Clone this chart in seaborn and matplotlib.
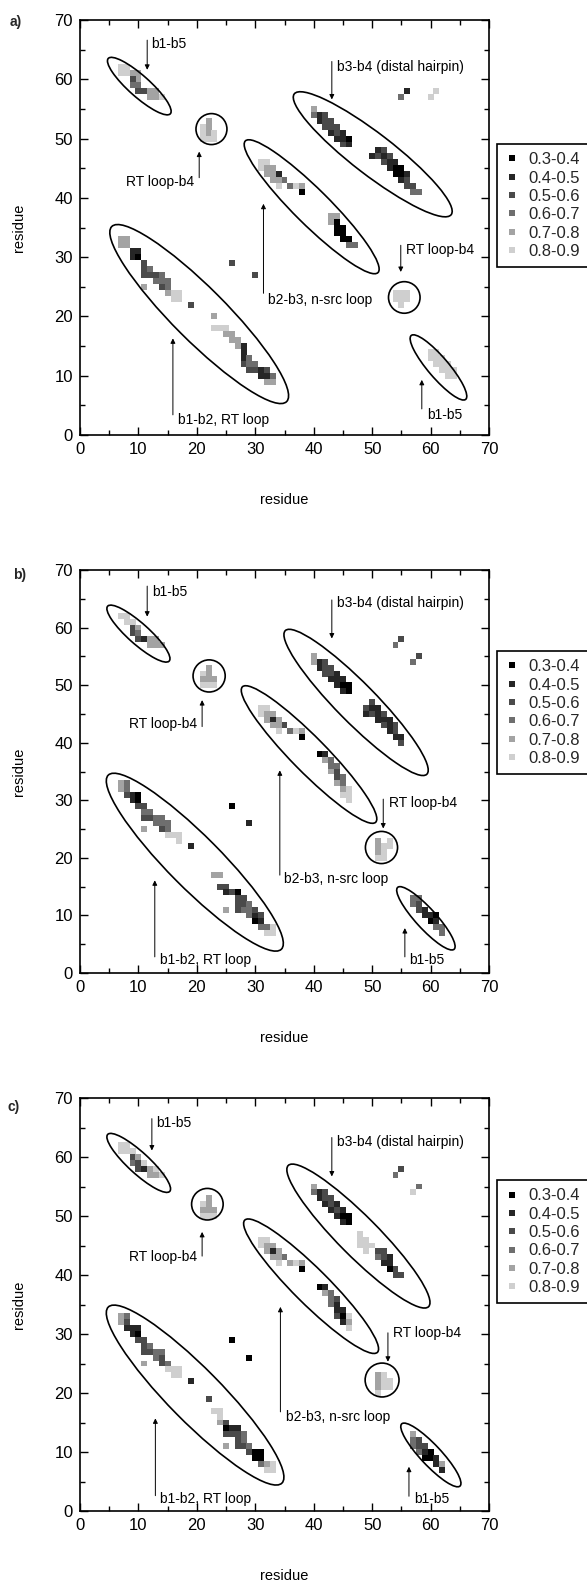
import numpy as np
import pandas as pd
import matplotlib
matplotlib.use("Agg")
import matplotlib.pyplot as plt
from matplotlib.patches import Ellipse
from matplotlib.lines import Line2D
import seaborn as sns

# contact probability bins and their shading
LEVELS = ["0.3-0.4", "0.4-0.5", "0.5-0.6", "0.6-0.7", "0.7-0.8", "0.8-0.9"]
GRAYS = ["#000000", "#262626", "#4a4a4a", "#6e6e6e", "#a3a3a3", "#cfcfcf"]
TICKS = [0, 10, 20, 30, 40, 50, 60, 70]

# contacts: (residue i, residue j, bin index into LEVELS)
a_contacts = [
    (7, 62, 5), (8, 62, 5), (7, 61, 5), (8, 61, 5), (9, 61, 4), (10, 61, 4), (10, 60, 4), (9, 60, 2),
    (9, 59, 3), (10, 59, 3), (10, 58, 2), (11, 58, 2), (12, 58, 4), (12, 57, 4), (13, 58, 4), (13, 57, 4), (14, 57, 5),
    (22, 53, 4), (22, 52, 4), (21, 52, 5), (21, 51, 5), (22, 51, 4), (23, 51, 5), (21, 50, 5), (22, 50, 5), (23, 50, 5),
    (40, 55, 4), (40, 54, 3), (41, 54, 1), (41, 53, 1), (42, 53, 2), (42, 52, 2), (43, 52, 2), (43, 51, 1),
    (44, 51, 2), (44, 50, 1), (45, 50, 1), (45, 49, 2), (46, 50, 0), (46, 49, 1),
    (42, 54, 2), (43, 53, 2), (44, 52, 2), (45, 51, 1),
    (50, 47, 1), (51, 48, 1), (51, 47, 2), (52, 47, 1), (52, 46, 2), (53, 46, 1), (53, 45, 1), (54, 45, 0),
    (54, 44, 0), (55, 44, 0), (55, 43, 1), (56, 43, 2), (56, 42, 2), (57, 42, 2), (57, 41, 3), (58, 41, 3),
    (52, 48, 2), (53, 47, 2), (54, 46, 1), (55, 45, 0), (56, 44, 1),
    (55, 57, 3), (56, 58, 1), (60, 57, 5), (61, 58, 5),
    (31, 46, 5), (32, 46, 5), (31, 45, 5), (32, 45, 4), (33, 45, 4), (32, 44, 4), (33, 44, 4), (34, 44, 1),
    (33, 43, 4), (34, 43, 4), (34, 42, 5), (35, 43, 3), (36, 42, 3), (37, 42, 5), (38, 42, 4), (38, 41, 0),
    (43, 37, 4), (43, 36, 4), (44, 36, 0), (44, 35, 0), (44, 34, 0), (45, 35, 0), (45, 34, 0), (45, 33, 0),
    (46, 33, 0), (46, 32, 3), (47, 32, 3), (44, 37, 4),
    (26, 29, 2), (30, 27, 2),
    (7, 33, 4), (7, 32, 4), (8, 33, 4), (8, 32, 4), (9, 31, 1), (10, 31, 1), (9, 30, 1), (10, 30, 0),
    (11, 29, 2), (11, 28, 2), (11, 27, 2), (12, 27, 2), (13, 27, 2), (14, 27, 3), (14, 26, 3), (14, 25, 2),
    (15, 25, 3), (15, 24, 4), (16, 24, 5), (17, 24, 5), (17, 23, 5), (16, 23, 5), (11, 25, 4), (19, 22, 2),
    (12, 28, 3), (13, 26, 3), (15, 26, 3),
    (23, 20, 4), (23, 18, 5), (24, 18, 5), (25, 18, 5), (25, 17, 4), (26, 17, 4), (26, 16, 4), (27, 16, 4),
    (27, 15, 4), (28, 15, 1), (28, 14, 1), (28, 13, 1), (28, 12, 2), (29, 13, 3), (29, 12, 3), (29, 11, 2),
    (30, 11, 2), (30, 12, 3), (31, 11, 1), (31, 10, 1), (32, 11, 2), (32, 10, 1), (32, 9, 4), (33, 9, 4), (33, 10, 3),
    (54, 24, 5), (55, 24, 5), (56, 24, 5), (54, 23, 5), (55, 23, 5), (56, 23, 5), (55, 22, 5),
    (60, 14, 5), (61, 14, 5), (60, 13, 5), (61, 13, 5), (62, 13, 5), (61, 12, 5), (62, 12, 5), (63, 12, 5),
    (62, 11, 5), (63, 11, 5), (64, 11, 5), (63, 10, 5), (64, 10, 5),
]

b_contacts = [
    (7, 62, 5), (8, 62, 5), (8, 61, 5), (9, 61, 5), (9, 60, 2), (9, 59, 2), (10, 60, 4), (10, 59, 3),
    (10, 58, 2), (11, 58, 1), (12, 58, 4), (12, 57, 4), (13, 58, 4), (13, 57, 4), (14, 57, 4),
    (22, 53, 4), (22, 52, 4), (21, 52, 5), (21, 51, 4), (22, 51, 4), (23, 51, 4), (21, 50, 5), (22, 50, 5), (23, 50, 5),
    (40, 55, 4), (40, 54, 4), (41, 54, 1), (41, 53, 1), (42, 53, 2), (42, 52, 2), (43, 53, 2), (43, 52, 2),
    (44, 52, 1), (43, 51, 1), (44, 51, 1), (44, 50, 1), (45, 50, 0), (45, 49, 1), (46, 50, 0), (46, 49, 0),
    (42, 54, 2), (45, 51, 1),
    (49, 46, 2), (50, 46, 1), (49, 45, 1), (50, 45, 2), (51, 45, 1), (51, 44, 1), (52, 44, 1), (52, 43, 2),
    (53, 43, 1), (53, 42, 1), (54, 42, 2), (54, 41, 1), (55, 41, 1), (55, 40, 2),
    (50, 47, 2), (51, 46, 1), (52, 45, 2), (53, 44, 1), (54, 43, 2),
    (54, 57, 3), (55, 58, 2), (57, 54, 3), (58, 55, 2),
    (31, 46, 5), (32, 46, 5), (31, 45, 5), (32, 45, 4), (33, 45, 4), (32, 44, 4), (33, 44, 1), (34, 44, 4),
    (33, 43, 4), (34, 43, 4), (34, 42, 5), (35, 43, 2), (36, 42, 3), (37, 42, 5), (38, 42, 4), (38, 41, 0),
    (41, 38, 0), (42, 38, 1), (42, 37, 4), (43, 37, 3), (43, 36, 3), (44, 36, 3), (43, 35, 4), (44, 35, 2),
    (44, 34, 2), (45, 34, 3), (45, 33, 3), (44, 33, 4), (45, 32, 4), (46, 32, 5), (46, 31, 5), (45, 31, 5), (46, 30, 5),
    (26, 29, 0), (29, 26, 1),
    (7, 33, 4), (7, 32, 4), (8, 33, 3), (8, 32, 3), (9, 31, 1), (10, 31, 0), (9, 30, 1), (10, 30, 0),
    (10, 29, 2), (11, 29, 2), (11, 28, 3), (11, 27, 2), (12, 28, 3), (12, 27, 2), (13, 27, 3), (14, 27, 3),
    (14, 26, 3), (14, 25, 2), (15, 25, 3), (15, 24, 5), (16, 24, 5), (17, 24, 5), (17, 23, 5), (11, 25, 4), (19, 22, 1),
    (8, 31, 2), (13, 26, 3), (15, 26, 3),
    (23, 17, 4), (24, 17, 4), (24, 15, 2), (25, 15, 2), (25, 14, 1), (26, 14, 2), (27, 14, 0), (27, 13, 2),
    (27, 12, 2), (27, 11, 2), (28, 12, 2), (28, 11, 3), (29, 11, 3), (29, 10, 3), (30, 10, 1), (30, 9, 0),
    (31, 9, 1), (31, 10, 2), (31, 8, 3), (32, 8, 3), (32, 7, 5), (33, 7, 5), (33, 8, 5), (25, 11, 4),
    (28, 13, 2), (29, 12, 3), (30, 11, 2),
    (51, 23, 4), (51, 22, 4), (51, 21, 4), (51, 20, 5), (52, 22, 5), (53, 22, 5), (52, 21, 5), (53, 23, 5), (52, 20, 5),
    (57, 13, 3), (57, 12, 3), (58, 12, 2), (58, 11, 2), (59, 11, 1), (59, 10, 1), (60, 10, 1), (60, 9, 0),
    (61, 10, 0), (61, 9, 1), (61, 8, 3), (62, 8, 3), (62, 7, 3), (58, 13, 3),
]

c_contacts = [
    (7, 62, 5), (8, 62, 5), (7, 61, 5), (8, 61, 5), (9, 61, 5), (9, 60, 2), (10, 60, 4), (9, 59, 3),
    (10, 59, 2), (10, 58, 2), (11, 58, 1), (11, 59, 5), (12, 58, 4), (12, 57, 4), (13, 58, 5), (13, 57, 4), (14, 57, 5),
    (22, 53, 4), (22, 52, 4), (21, 52, 5), (21, 51, 4), (22, 51, 4), (23, 51, 4), (21, 50, 5), (22, 50, 5), (23, 50, 5),
    (40, 55, 4), (40, 54, 3), (41, 54, 1), (41, 53, 1), (42, 53, 2), (42, 52, 1), (43, 53, 2), (43, 52, 2),
    (44, 52, 1), (43, 51, 1), (44, 51, 2), (44, 50, 1), (45, 50, 0), (45, 49, 1), (46, 50, 0), (46, 49, 0),
    (42, 54, 2), (45, 51, 1),
    (48, 47, 5), (48, 46, 5), (49, 46, 5), (48, 45, 5), (49, 45, 5), (50, 45, 5), (49, 44, 5),
    (51, 44, 2), (51, 43, 3), (52, 43, 2), (52, 42, 1), (53, 42, 1), (53, 41, 0), (54, 41, 2), (54, 40, 2), (55, 40, 2),
    (52, 44, 2), (53, 43, 1),
    (54, 57, 3), (55, 58, 2), (57, 54, 5), (58, 55, 3),
    (31, 46, 5), (32, 46, 5), (31, 45, 5), (32, 45, 4), (33, 45, 4), (32, 44, 4), (33, 44, 1), (34, 44, 4),
    (33, 43, 4), (34, 43, 4), (34, 42, 5), (35, 43, 3), (36, 42, 4), (37, 42, 5), (38, 42, 4), (38, 41, 0),
    (41, 38, 0), (42, 38, 1), (42, 37, 4), (43, 37, 3), (43, 36, 3), (44, 36, 2), (43, 35, 3), (44, 35, 1),
    (44, 34, 1), (45, 34, 1), (45, 33, 0), (44, 33, 2), (45, 32, 1), (46, 32, 4), (46, 33, 5), (46, 31, 5),
    (26, 29, 0), (29, 26, 0),
    (7, 33, 4), (7, 32, 4), (8, 33, 3), (8, 32, 2), (8, 31, 1), (9, 31, 1), (10, 31, 1), (9, 30, 1),
    (10, 30, 0), (10, 29, 2), (11, 29, 2), (11, 28, 2), (11, 27, 2), (12, 28, 3), (12, 27, 2), (13, 27, 3),
    (14, 27, 3), (14, 26, 2), (14, 25, 2), (15, 25, 3), (15, 24, 5), (16, 24, 5), (17, 24, 5), (17, 23, 5),
    (16, 23, 5), (11, 25, 4), (19, 22, 1), (13, 26, 3),
    (22, 19, 2), (23, 17, 5), (24, 17, 5), (24, 16, 5), (24, 15, 4), (25, 15, 2), (25, 14, 0), (26, 14, 1),
    (27, 14, 1), (25, 13, 2), (27, 13, 2), (27, 12, 2), (28, 12, 3), (27, 11, 2), (28, 11, 2), (29, 11, 3),
    (29, 10, 2), (30, 10, 0), (30, 9, 0), (31, 10, 0), (31, 9, 0), (31, 8, 3), (32, 8, 4), (33, 8, 5),
    (32, 7, 5), (33, 7, 5), (25, 11, 4), (26, 13, 2), (28, 13, 3),
    (51, 23, 4), (51, 22, 4), (51, 21, 4), (52, 22, 5), (53, 22, 5), (52, 21, 5), (51, 20, 5), (52, 23, 5), (53, 21, 5),
    (57, 13, 4), (57, 12, 3), (57, 11, 3), (58, 12, 2), (58, 11, 2), (58, 10, 3), (59, 10, 1), (59, 9, 0),
    (60, 10, 0), (60, 9, 0), (61, 9, 1), (61, 8, 1), (62, 8, 4), (62, 7, 1), (59, 11, 2),
]

# region outlines: (x0, x1, y0, y1, minor width) bounding boxes of tilted ellipses
a_ellipses = [(4.7, 15.6, 54.0, 63.7, 3.6), (36.5, 63.7, 36.8, 57.9, 7.0), (28.1, 51.2, 27.2, 49.8, 6.0),
              (5.1, 35.7, 5.3, 35.5, 9.0), (56.5, 66.2, 5.9, 16.9, 3.5)]
b_ellipses = [(4.6, 15.4, 54.0, 63.9, 3.6), (34.9, 59.6, 34.3, 59.7, 6.8), (27.6, 50.8, 26.0, 49.9, 6.0),
              (4.5, 34.8, 3.8, 34.7, 9.0), (54.2, 64.2, 4.0, 15.0, 3.5)]
c_ellipses = [(4.6, 15.5, 54.0, 64.0, 3.6), (35.4, 59.9, 34.4, 58.8, 6.8), (28.0, 51.1, 26.7, 49.5, 6.0),
              (4.5, 34.9, 4.4, 34.9, 9.0), (54.9, 65.2, 4.1, 14.9, 3.5)]
# circles: (cx, cy, r)
a_circles = [(22.5, 51.6, 2.65), (55.5, 23.2, 2.7)]
b_circles = [(22.1, 51.6, 2.75), (51.6, 21.8, 2.75)]
c_circles = [(21.8, 52.0, 2.7), (51.7, 22.2, 2.9)]

# labelled arrows: (text, tx, ty, ha, tail, head)
a_notes = [("b1-b5", 12.2, 66.0, "left", (11.5, 66.6), (11.5, 61.6)),
           ("RT loop-b4", 19.5, 42.7, "right", (20.4, 43.4), (20.4, 47.8)),
           ("b3-b4 (distal hairpin)", 43.9, 62.0, "left", (43.1, 63.0), (43.1, 56.6)),
           ("b2-b3, n-src loop", 32.2, 22.8, "left", (31.4, 23.9), (31.4, 39.0)),
           ("RT loop-b4", 55.8, 31.2, "left", (54.9, 32.0), (54.9, 27.5)),
           ("b1-b5", 59.4, 3.4, "left", (58.5, 4.4), (58.5, 9.3)),
           ("b1-b2, RT loop", 16.7, 2.6, "left", (15.9, 3.4), (15.9, 16.3))]
b_notes = [("b1-b5", 12.3, 66.2, "left", (11.5, 67.2), (11.5, 61.9)),
           ("RT loop-b4", 20.0, 43.2, "right", (20.9, 42.8), (20.9, 47.4)),
           ("b3-b4 (distal hairpin)", 43.9, 64.2, "left", (43.1, 64.8), (43.1, 58.1)),
           ("b2-b3, n-src loop", 34.9, 16.3, "left", (34.2, 17.0), (34.2, 35.2)),
           ("RT loop-b4", 52.8, 29.6, "left", (51.9, 30.2), (51.9, 25.1)),
           ("b1-b5", 56.4, 2.3, "left", (55.6, 2.8), (55.6, 7.8)),
           ("b1-b2, RT loop", 13.7, 2.3, "left", (12.8, 2.8), (12.8, 16.1))]
c_notes = [("b1-b5", 13.0, 65.7, "left", (12.3, 66.5), (12.3, 61.1)),
           ("RT loop-b4", 20.0, 43.1, "right", (20.9, 43.2), (20.9, 47.3)),
           ("b3-b4 (distal hairpin)", 43.9, 62.6, "left", (43.1, 63.3), (43.1, 56.7)),
           ("b2-b3, n-src loop", 35.2, 16.0, "left", (34.3, 16.8), (34.3, 34.6)),
           ("RT loop-b4", 53.5, 30.1, "left", (52.7, 30.2), (52.7, 25.3)),
           ("b1-b5", 57.2, 2.0, "left", (56.3, 2.5), (56.3, 7.5)),
           ("b1-b2, RT loop", 13.7, 2.0, "left", (12.9, 2.6), (12.9, 15.7))]

sns.set_theme(style="ticks")
plt.rcParams["font.family"] = ["Liberation Sans", "DejaVu Sans"]
plt.rcParams["axes.linewidth"] = 1.2

W, H = 587, 1585
fig = plt.figure(figsize=(W / 100, H / 100), dpi=100)

# panel frames in pixels: (left, right, top, bottom), plus tag and legend anchor
panels = [
    ("a)", a_contacts, a_ellipses, a_circles, a_notes, (80, 489, 20, 435), (10, 22), (497, 144)),
    ("b)", b_contacts, b_ellipses, b_circles, b_notes, (80, 489, 570, 973), (13, 575), (497, 651)),
    ("c)", c_contacts, c_ellipses, c_circles, c_notes, (80, 489, 1098, 1511), (8, 1107), (497, 1180)),
]


def tilted_ellipse(ax, x0, x1, y0, y1, minor):
    w, h, b = (x1 - x0) / 2, (y1 - y0) / 2, minor / 2
    a2 = w * w + h * h - b * b
    c2 = np.clip((w * w - h * h) / (a2 - b * b), -1, 1)
    theta = 0.5 * np.degrees(np.arccos(c2))
    ax.add_patch(Ellipse(((x0 + x1) / 2, (y0 + y1) / 2), 2 * np.sqrt(a2), 2 * b, angle=-theta,
                         fill=False, ec="black", lw=1.2, zorder=3))


for tag, contacts, ellipses, circles, notes, (l, r, t, btm), tagpos, legpos in panels:
    ax = fig.add_axes([l / W, 1 - btm / H, (r - l) / W, (btm - t) / H])
    ax.set_xlim(0, 70)
    ax.set_ylim(0, 70)
    ux = (r - l) / 70.0
    uy = (btm - t) / 70.0

    df = pd.DataFrame(contacts, columns=["i", "j", "k"]).drop_duplicates(subset=["i", "j"])
    df["level"] = [LEVELS[k] for k in df["k"]]
    side_pt = 1.02 * ux * 72 / 100
    sns.scatterplot(data=df, x="i", y="j", hue="level", hue_order=LEVELS,
                    palette=dict(zip(LEVELS, GRAYS)), marker="s", s=side_pt ** 2,
                    linewidth=0, legend=False, ax=ax, zorder=2)

    for e in ellipses:
        tilted_ellipse(ax, *e)
    for cx, cy, rad in circles:
        ax.add_patch(Ellipse((cx, cy), 2 * rad, 2 * rad * ux / uy, fill=False, ec="black", lw=1.2, zorder=3))

    for txt, tx, ty, ha, tail, head in notes:
        ax.annotate("", xy=head, xytext=tail,
                    arrowprops=dict(arrowstyle="-|>", lw=0.7, color="black", mutation_scale=7,
                                    shrinkA=0, shrinkB=0))
        ax.text(tx, ty, txt, ha=ha, va="center", fontsize=10, color="black")

    ax.set_xticks(TICKS)
    ax.set_yticks(TICKS)
    ax.set_xticks(np.arange(5, 70, 10), minor=True)
    ax.set_yticks(np.arange(5, 70, 10), minor=True)
    ax.tick_params(which="both", direction="in", top=True, right=True, labelsize=12, colors="black",
                   width=1.0, pad=5)
    ax.tick_params(which="major", length=6)
    ax.tick_params(which="minor", length=3.5)
    for s in ax.spines.values():
        s.set_color("black")
        s.set_linewidth(1.2)
    ax.set_xlabel("residue", fontsize=10.5, color="black")
    ax.set_ylabel("residue", fontsize=10.5, color="black")
    ax.xaxis.set_label_coords(0.5, -58 / (btm - t))
    ax.yaxis.set_label_coords(-54 / (r - l), 0.5)

    handles = [Line2D([], [], ls="none", marker="s", markersize=5, markerfacecolor=g,
                      markeredgewidth=0) for g in GRAYS]
    ax.legend(handles, LEVELS, loc="upper left", bbox_to_anchor=(legpos[0] / W, 1 - legpos[1] / H),
              bbox_transform=fig.transFigure, fontsize=12, frameon=True, fancybox=False,
              edgecolor="black", framealpha=1, borderpad=0.5, handlelength=0.8, handletextpad=0.6,
              labelspacing=0.2, borderaxespad=0).get_frame().set_linewidth(1.2)

    fig.text(tagpos[0] / W, 1 - tagpos[1] / H, tag, fontsize=10, fontweight="bold", ha="left", va="center")

fig.savefig("out.png", dpi=100)
